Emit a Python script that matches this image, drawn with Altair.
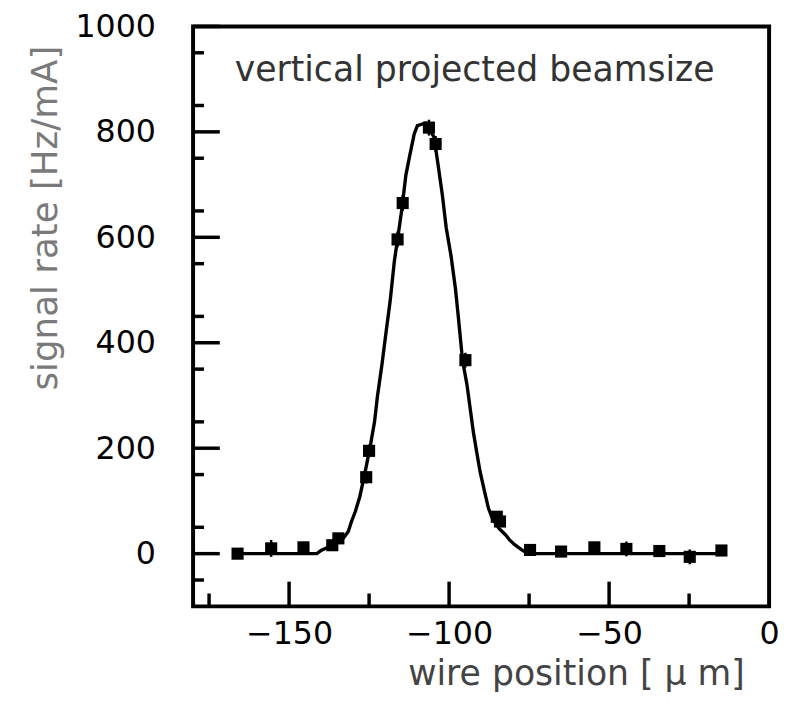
import altair as alt
import pandas as pd

# ---- data ----
point_x = [-166.1, -155.6, -145.5, -136.5, -134.6, -125.9, -125.0, -116.1, -114.5,
           -106.3, -104.2, -94.9, -85.1, -84.1, -74.7, -65.0, -54.6, -44.6, -34.3,
           -24.8, -14.9]
point_y = [0, 10, 12, 16, 29, 145, 195, 596, 665, 808, 777, 367, 70, 61, 7, 4, 12,
           9, 5, -6, 6]
point_err = [8, 16, 10, 8, 8, 12, 12, 15, 15, 15, 15, 14, 10, 10, 8, 8, 10, 14, 10,
             14, 8]

fit_x = [-166.1, -141.3, -140.0, -137.2, -133.1, -131.5, -130.5, -129.3, -127.9,
         -126.9, -125.9, -124.6, -123.3, -122.4, -121.0, -119.7, -118.4, -117.1,
         -115.9, -114.8, -113.5, -112.3, -110.9, -109.9, -107.3, -104.7, -103.5,
         -102.1, -100.9, -99.4, -98.0, -97.0, -95.8, -94.4, -93.4, -92.4, -91.3,
         -90.3, -89.0, -87.7, -86.5, -84.4, -82.4, -81.1, -79.5, -77.4, -75.4, -13.6]
fit_y = [0, 0, 6, 14, 29, 42, 61, 80, 108, 136, 165, 205, 250, 298, 358, 420, 480,
         555, 605, 652, 718, 755, 796, 812, 817, 790, 740, 680, 618, 565, 502, 442,
         367, 320, 275, 230, 190, 155, 120, 86, 67, 48, 36, 26, 17, 7.5, 0, 0]

x_major = [-150, -100, -50]
x_minor = [-175, -125, -75, -25]
x_labels = [-150, -100, -50, 0]
y_major = [0, 200, 400, 600, 800, 1000]
y_minor = [-50, 50, 150, 250, 350, 450, 550, 650, 750, 850, 950]

x_domain = [-180, 0]
y_domain = [-100, 1000]

label_text = "vertical projected beamsize"
x_title = "wire position [ μ m]"
y_title = "signal rate [Hz/mA]"

W, H = 582, 586
FONT = "DejaVu Sans"

xs = alt.Scale(domain=x_domain, nice=False, zero=False)
ys = alt.Scale(domain=y_domain, nice=False, zero=False)

pts = pd.DataFrame({"x": point_x, "y": point_y, "e": point_err})
pts["lo"] = pts["y"] - pts["e"]
pts["hi"] = pts["y"] + pts["e"]
fit = pd.DataFrame({"x": fit_x, "y": fit_y})

x_axis = alt.Axis(values=x_labels, title=x_title, domain=False, ticks=False,
                  grid=False, labelFont=FONT, labelFontSize=32, labelColor="black",
                  labelPadding=12, labelFlush=False, labelOverlap=False,
                  format="d", titleFont=FONT, titleFontSize=35,
                  titleFontWeight="normal", titleColor="#444444",
                  titleAlign="right", titleBaseline="alphabetic",
                  titleX=557, titleY=79)
y_axis = alt.Axis(values=y_major, title=y_title, domain=False, ticks=False,
                  grid=False, labelFont=FONT, labelFontSize=32, labelColor="black",
                  labelPadding=38, labelFlush=False, labelOverlap=False,
                  format="d", titleFont=FONT, titleFontSize=36,
                  titleFontWeight="normal", titleColor="#7a7a7a",
                  titleAngle=-90, titleAlign="right", titleBaseline="alphabetic",
                  titleX=-138, titleY=19)

curve = alt.Chart(fit).mark_line(color="black", strokeWidth=3.4).encode(
    x=alt.X("x:Q", scale=xs, axis=x_axis),
    y=alt.Y("y:Q", scale=ys, axis=y_axis),
)

errs = alt.Chart(pts).mark_rule(color="black", strokeWidth=2.5).encode(
    x=alt.X("x:Q", scale=xs),
    y=alt.Y("lo:Q", scale=ys),
    y2="hi:Q",
)

marks = alt.Chart(pts).mark_square(color="black", size=150, opacity=1).encode(
    x=alt.X("x:Q", scale=xs),
    y=alt.Y("y:Q", scale=ys),
)

xmaj = alt.Chart(pd.DataFrame({"v": x_major})).mark_rule(
    color="black", strokeWidth=3.5).encode(
    x=alt.X("v:Q", scale=xs), y=alt.value(H), y2=alt.value(H - 25))
xmin = alt.Chart(pd.DataFrame({"v": x_minor})).mark_rule(
    color="black", strokeWidth=3.5).encode(
    x=alt.X("v:Q", scale=xs), y=alt.value(H), y2=alt.value(H - 13))
ymaj = alt.Chart(pd.DataFrame({"v": y_major})).mark_rule(
    color="black", strokeWidth=3.5).encode(
    y=alt.Y("v:Q", scale=ys), x=alt.value(0), x2=alt.value(27))
ymin = alt.Chart(pd.DataFrame({"v": y_minor})).mark_rule(
    color="black", strokeWidth=3.5).encode(
    y=alt.Y("v:Q", scale=ys), x=alt.value(0), x2=alt.value(11))

label = alt.Chart(pd.DataFrame({"t": [label_text]})).mark_text(
    font=FONT, fontSize=35, color="#333333", align="left",
    baseline="alphabetic").encode(
    text="t:N", x=alt.value(42), y=alt.value(55))

chart = alt.layer(curve, errs, marks, xmaj, xmin, ymaj, ymin, label).properties(
    width=W, height=H,
    autosize=alt.AutoSizeParams(type="none"),
    padding={"left": 187, "top": 15, "right": 10, "bottom": 92},
    background="white",
).configure_view(stroke="black", strokeWidth=4)

chart.save("out.html", embed_options={"renderer": "svg", "actions": False})
